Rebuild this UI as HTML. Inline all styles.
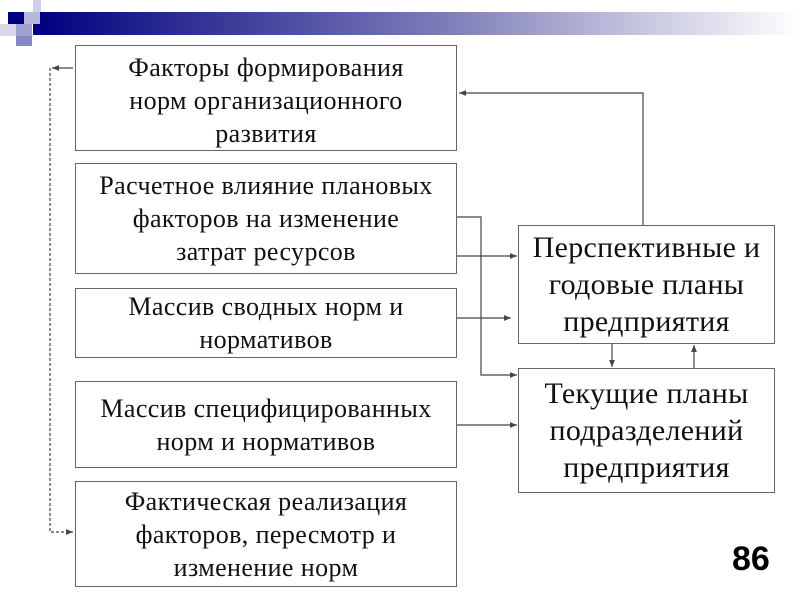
<!DOCTYPE html>
<html><head><meta charset="utf-8"><style>
body{margin:0;width:800px;height:600px;background:#fff;position:relative;overflow:hidden;font-family:"Liberation Serif",serif}
.b{position:absolute;border:1.3px solid #666;box-sizing:border-box;display:flex;align-items:center;justify-content:center;text-align:center;font-size:26px;letter-spacing:0.4px;line-height:33px;color:#111;white-space:nowrap}
.r{font-size:30px;line-height:37px;letter-spacing:0.3px}
.sq{position:absolute}
</style></head><body>
<div style="position:absolute;left:33px;top:12px;width:767px;height:23px;background:linear-gradient(to right,#000080 0%,#3a3a98 25%,#8080bb 55%,#c8c8e0 80%,#fff 100%)"></div>
<div class="sq" style="left:8px;top:12px;width:16px;height:12px;background:#000080"></div>
<div class="sq" style="left:24px;top:12px;width:16px;height:12px;background:#b8b8dc"></div>
<div class="sq" style="left:33px;top:0px;width:8px;height:12px;background:#d0d0e8"></div>
<div class="sq" style="left:0px;top:24px;width:16px;height:12px;background:#d8d8ec"></div>
<div class="sq" style="left:16px;top:24px;width:16px;height:12px;background:#a0a0d0"></div>
<div class="sq" style="left:16px;top:36px;width:16px;height:10px;background:#8888c0"></div>
<div class="b" style="left:75px;top:45px;width:382px;height:106px;padding-top:4px">Факторы формирования<br>норм организационного<br>развития</div>
<div class="b" style="left:75px;top:163px;width:382px;height:111px">Расчетное влияние плановых<br>факторов на изменение<br>затрат ресурсов</div>
<div class="b" style="left:75px;top:288px;width:382px;height:70px">Массив сводных норм и<br>нормативов</div>
<div class="b" style="left:75px;top:381px;width:382px;height:87px">Массив специфицированных<br>норм и нормативов</div>
<div class="b" style="left:75px;top:481px;width:382px;height:106px">Фактическая реализация<br>факторов, пересмотр и<br>изменение норм</div>
<div class="b r" style="left:518px;top:225px;width:257px;height:119px">Перспективные и<br>годовые планы<br>предприятия</div>
<div class="b r" style="left:518px;top:368px;width:257px;height:125px">Текущие планы<br>подразделений<br>предприятия</div>
<svg width="800" height="600" style="position:absolute;left:0;top:0">
<defs><marker id="a" markerWidth="6" markerHeight="6" refX="6" refY="3" orient="auto"><path d="M0,0.5L6,3L0,5.5z" fill="#444"/></marker></defs>
<g stroke="#444" stroke-width="1.2" fill="none">
<path d="M457,217H481V375H517" marker-end="url(#a)"/>
<path d="M457,256H517" marker-end="url(#a)"/>
<path d="M457,318H511" marker-end="url(#a)"/>
<path d="M457,425H517" marker-end="url(#a)"/>
<path d="M643,225V93H459" marker-end="url(#a)"/>
<path d="M612,344V367" marker-end="url(#a)"/>
<path d="M694,368V345" marker-end="url(#a)"/>
<path d="M73,68H52" marker-end="url(#a)"/>
<path d="M50,68V532H73" stroke-dasharray="3,2" marker-end="url(#a)"/>
</g></svg>
<div style="position:absolute;left:732px;top:540px;font:bold 34px 'Liberation Sans',sans-serif;color:#000">86</div>
</body></html>
